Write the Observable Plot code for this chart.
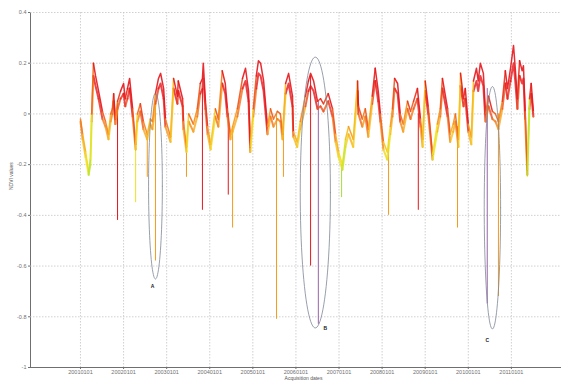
<!DOCTYPE html>
<html>
<head>
<meta charset="utf-8">
<script src="https://cdn.jsdelivr.net/npm/d3@7"></script>
<script src="https://cdn.jsdelivr.net/npm/@observablehq/plot@0.6"></script>
<style>
  html, body { margin: 0; padding: 0; background: #fff; }
  #chart { width: 563px; height: 382px; }
</style>
</head>
<body>
<div id="chart"></div>
<script>
// ---- data (decimal years, NDVI values) ----
const dates = [
  2001.00,2001.05,2001.12,2001.19,2001.23,2001.26,2001.30,2001.35,2001.42,2001.51,
  2001.58,2001.65,2001.70,2001.74,2001.77,2001.81,2001.86,2001.93,2002.00,2002.04,
  2002.09,2002.14,2002.21,2002.28,2002.32,2002.39,2002.46,2002.55,2002.62,2002.67,
  2002.74,2002.81,2002.86,2002.93,2002.97,2003.09,2003.16,2003.25,2003.27,2003.37,
  2003.39,2003.46,2003.51,2003.62,2003.71,2003.78,2003.83,2003.85,2003.90,2003.95,
  2004.02,2004.13,2004.20,2004.29,2004.36,2004.41,2004.48,2004.53,2004.64,2004.76,
  2004.83,2004.90,2004.94,2005.01,2005.08,2005.13,2005.18,2005.25,2005.34,2005.41,
  2005.48,2005.57,2005.64,2005.69,2005.76,2005.83,2005.92,2005.94,2006.03,2006.10,
  2006.22,2006.29,2006.34,2006.41,2006.50,2006.57,2006.64,2006.75,2006.85,2006.92,
  2006.99,2007.08,2007.15,2007.22,2007.33,2007.43,2007.45,2007.54,2007.61,2007.68,
  2007.77,2007.84,2007.91,2007.96,2008.03,2008.12,2008.19,2008.24,2008.29,2008.36,
  2008.42,2008.49,2008.59,2008.66,2008.73,2008.82,2008.89,2008.94,2009.00,2009.07,
  2009.17,2009.28,2009.35,2009.40,2009.52,2009.58,2009.65,2009.70,2009.77,2009.82,
  2009.89,2009.93,2010.00,2010.07,2010.12,2010.19,2010.23,2010.28,2010.35,2010.40,
  2010.47,2010.56,2010.63,2010.70,2010.79,2010.86,2010.91,2010.98,2011.05,2011.09,
  2011.14,2011.19,2011.25,2011.28,2011.32,2011.37,2011.42,2011.46,2011.51
];
// upper (reddish) pixels
const ndviUpper = [
  -0.02,-0.08,-0.15,-0.23,-0.18,0.00,0.20,0.15,0.09,0.01,
  -0.03,-0.08,0.00,0.02,0.08,-0.02,0.05,0.09,0.12,0.06,
  0.10,0.14,0.02,-0.12,0.00,0.04,-0.03,-0.08,-0.02,-0.03,
  0.08,0.14,0.16,0.10,-0.02,-0.09,0.14,0.07,0.13,0.06,
  -0.03,-0.13,0.00,-0.04,0.02,0.12,0.14,0.20,0.05,-0.05,
  -0.12,0.02,-0.02,0.17,0.12,0.02,-0.08,-0.05,0.02,0.14,
  0.18,0.09,-0.13,0.02,0.15,0.21,0.20,0.13,-0.05,0.02,
  -0.02,0.01,0.00,-0.08,0.12,0.16,0.07,-0.07,-0.11,-0.03,
  0.07,0.13,0.16,0.13,0.05,0.06,0.04,0.08,0.02,-0.08,
  -0.15,-0.20,-0.10,-0.05,-0.10,0.13,0.03,-0.02,0.02,-0.06,
  0.07,0.18,0.09,0.00,-0.11,-0.15,-0.05,0.02,0.14,0.12,
  0.00,-0.04,0.05,0.01,0.05,0.10,-0.02,-0.10,0.13,0.03,
  -0.16,-0.04,0.02,0.14,0.02,-0.08,-0.04,0.00,-0.10,0.16,
  0.06,0.10,-0.04,-0.09,0.13,0.18,0.13,0.20,0.16,0.00,
  0.07,0.01,0.00,-0.03,0.05,0.17,0.10,0.18,0.27,0.18,
  0.06,0.21,0.17,0.19,0.01,-0.22,0.06,0.12,0.01
];
// lower (orange / yellow) pixels
const ndviLower = [
  -0.03,-0.10,-0.17,-0.24,-0.20,-0.03,0.15,0.11,0.06,-0.02,
  -0.05,-0.10,-0.03,0.00,0.05,-0.04,0.02,0.06,0.08,0.03,
  0.06,0.10,-0.01,-0.14,-0.03,0.01,-0.06,-0.10,-0.04,-0.06,
  0.04,0.10,0.12,0.06,-0.05,-0.11,0.10,0.04,0.09,0.03,
  -0.06,-0.15,-0.03,-0.07,-0.01,0.08,0.10,0.14,0.02,-0.08,
  -0.14,-0.01,-0.05,0.12,0.08,-0.01,-0.10,-0.07,-0.01,0.10,
  0.13,0.05,-0.15,-0.01,0.10,0.16,0.15,0.09,-0.08,-0.01,
  -0.05,-0.02,-0.03,-0.10,0.08,0.12,0.03,-0.09,-0.13,-0.06,
  0.03,0.09,0.11,0.09,0.02,0.03,0.01,0.05,-0.01,-0.11,
  -0.17,-0.22,-0.13,-0.08,-0.13,0.09,0.00,-0.05,-0.01,-0.09,
  0.04,0.13,0.05,-0.03,-0.14,-0.18,-0.08,-0.01,0.10,0.08,
  -0.03,-0.07,0.02,-0.02,0.02,0.06,-0.05,-0.13,0.09,0.00,
  -0.18,-0.07,-0.01,0.10,-0.01,-0.11,-0.07,-0.03,-0.13,0.11,
  0.03,0.06,-0.07,-0.12,0.09,0.13,0.09,0.15,0.11,-0.03,
  0.03,-0.02,-0.03,-0.06,0.02,0.12,0.06,0.13,0.20,0.13,
  0.02,0.15,0.12,0.14,-0.02,-0.24,0.02,0.08,-0.01
];

// sharp drops of individual pixels
const spikeDates = [2001.86,2002.28,2002.55,2002.74,2003.46,2003.83,2004.43,2004.53,2005.55,2005.71,
                    2006.34,2006.52,2007.06,2008.15,2008.84,2009.75,2010.44,2010.70,2011.37];
const spikeTop   = [0.05,-0.12,-0.08,0.05,-0.13,0.10,0.00,-0.05,0.00,-0.05,
                    0.15,0.05,-0.20,-0.10,0.00,-0.05,0.10,0.00,-0.20];
const spikeLow   = [-0.42,-0.35,-0.25,-0.58,-0.25,-0.38,-0.32,-0.45,-0.81,-0.25,
                    -0.60,-0.83,-0.33,-0.40,-0.38,-0.45,-0.75,-0.72,-0.25];
const spikeGroup = ["red","yellow","orange","orange","orange","red","red","orange","orange","orange",
                    "red","purple","green","orange","red","orange","purple","orange","yellow"];

// annotation ellipses
const ellipseNames = ["A","B","C"];
const ellipseCx = [2002.74, 2006.45, 2010.56];
const ellipseCy = [-0.285, -0.31, -0.37];
const ellipseRx = [0.16, 0.35, 0.19];
const ellipseRy = [0.366, 0.534, 0.478];
const labelX = [2002.67, 2006.68, 2010.44];
const labelY = [-0.68, -0.845, -0.895];

// ticks
const xTicks = [2001,2002,2003,2004,2005,2006,2007,2008,2009,2010,2011];
const yTicks = [0.4,0.2,0,-0.2,-0.4,-0.6,-0.8,-1];

// ---- build ----
const upper = dates.map((d, i) => ({date: d, v: ndviUpper[i]}));
const lower = dates.map((d, i) => ({date: d, v: ndviLower[i]}));
const spikes = spikeDates.map((d, i) => ({date: d, top: spikeTop[i], low: spikeLow[i], g: spikeGroup[i]}));
const groupColor = {red: "#e5171c", orange: "#f39a1c", yellow: "#eee21e", purple: "#9a63a8", green: "#a6dd34"};

const ellipsePts = [];
ellipseNames.forEach((n, k) => {
  for (let i = 0; i <= 90; i++) {
    const t = 2 * Math.PI * i / 90;
    ellipsePts.push({name: n, x: ellipseCx[k] + ellipseRx[k] * Math.cos(t), y: ellipseCy[k] + ellipseRy[k] * Math.sin(t)});
  }
});
const labels = ellipseNames.map((n, k) => ({name: n, x: labelX[k], y: labelY[k]}));

const spikeMarks = Object.keys(groupColor).map(g =>
  Plot.ruleX(spikes.filter(s => s.g === g), {x: "date", y1: "top", y2: "low", stroke: groupColor[g], strokeWidth: 1})
);

const chart = Plot.plot({
  width: 563,
  height: 382,
  marginLeft: 30,
  marginRight: 3,
  marginTop: 12,
  marginBottom: 15,
  style: {background: "#fff", color: "#6f6f6f", fontFamily: "'Liberation Sans', Arial, sans-serif", fontSize: "5.5px"},
  x: {domain: [1999.84, 2012.14], ticks: xTicks, tickFormat: d => d + "0101", tickSize: 2, tickPadding: 1, label: null, line: true},
  y: {domain: [-1, 0.4], ticks: yTicks, tickFormat: d => String(d), tickSize: 2, tickPadding: 2, label: null, line: true},
  color: {type: "linear", domain: [-0.24, -0.16, -0.06, 0.08], range: ["#b5e42c", "#f3e21d", "#f7a41c", "#e5161c"], interpolate: "rgb", clamp: true},
  marks: [
    Plot.ruleX(xTicks, {stroke: "#c4c4c4", strokeWidth: 0.8, strokeDasharray: "1.5,1.5"}),
    Plot.ruleY(yTicks.filter(d => d > -1), {stroke: "#c4c4c4", strokeWidth: 0.8, strokeDasharray: "1.5,1.5"}),
    ...spikeMarks,
    Plot.line(lower, {x: "date", y: "v", z: null, stroke: "v", strokeWidth: 2, strokeOpacity: 0.8}),
    Plot.line(upper, {x: "date", y: "v", z: null, stroke: "v", strokeWidth: 1.5, strokeOpacity: 0.9}),
    Plot.line(ellipsePts, {x: "x", y: "y", z: "name", stroke: "#7d8795", strokeWidth: 0.8, curve: "linear"}),
    Plot.text(labels, {x: "x", y: "y", text: "name", fill: "#222", fontSize: 5, fontWeight: "bold"}),
    Plot.text(["NDVI values"], {frameAnchor: "left", dx: -19, rotate: -90, fill: "#555", fontSize: 5}),
    Plot.text(["Acquisition dates"], {frameAnchor: "bottom", dx: 8, dy: 12.5, fill: "#555", fontSize: 5})
  ]
});
document.getElementById("chart").appendChild(chart);
</script>
</body>
</html>
